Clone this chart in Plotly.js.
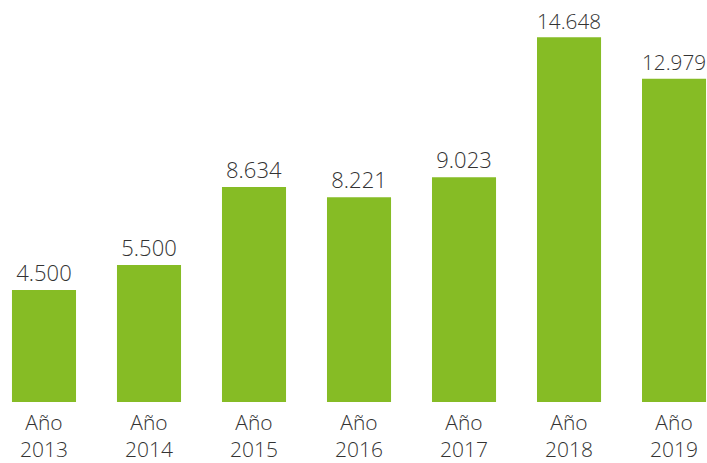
<!DOCTYPE html>
<html>
<head>
<meta charset="utf-8">
<script src="https://cdn.plot.ly/plotly-3.0.1.min.js"></script>
<style>html,body{margin:0;padding:0;background:#fff;}#chart{width:707px;height:463px;}</style>
</head>
<body>
<div id="chart"></div>
<script>
const categories = ["Año<br>2013", "Año<br>2014", "Año<br>2015", "Año<br>2016", "Año<br>2017", "Año<br>2018", "Año<br>2019"];
const values = [4500, 5500, 8634, 8221, 9023, 14648, 12979];
const valueLabels = ["4.500", "5.500", "8.634", "8.221", "9.023", "14.648", "12.979"];

const trace = {
  type: "bar",
  x: categories,
  y: values,
  text: valueLabels,
  textposition: "outside",
  cliponaxis: false,
  textfont: {family: "Open Sans", size: 22, color: "#333333", weight: 300},
  marker: {color: "#86bc25"},
  hoverinfo: "none"
};

const layout = {
  width: 707, height: 463,
  margin: {l: 0, r: 0, t: 0, b: 61, pad: 0},
  paper_bgcolor: "#ffffff",
  plot_bgcolor: "#ffffff",
  showlegend: false,
  bargap: 0.39,
  font: {family: "Open Sans", color: "#333333"},
  xaxis: {
    type: "category",
    range: [-0.419, 6.314],
    showgrid: false, zeroline: false, showline: false, ticks: "",
    ticklabelstandoff: 6,
    tickfont: {family: "Open Sans", size: 21, color: "#333333", weight: 300}
  },
  yaxis: {
    range: [0, 16145],
    visible: false, showgrid: false, zeroline: false
  }
};

Plotly.newPlot("chart", [trace], layout, {staticPlot: true, displayModeBar: false});
</script>
</body>
</html>
